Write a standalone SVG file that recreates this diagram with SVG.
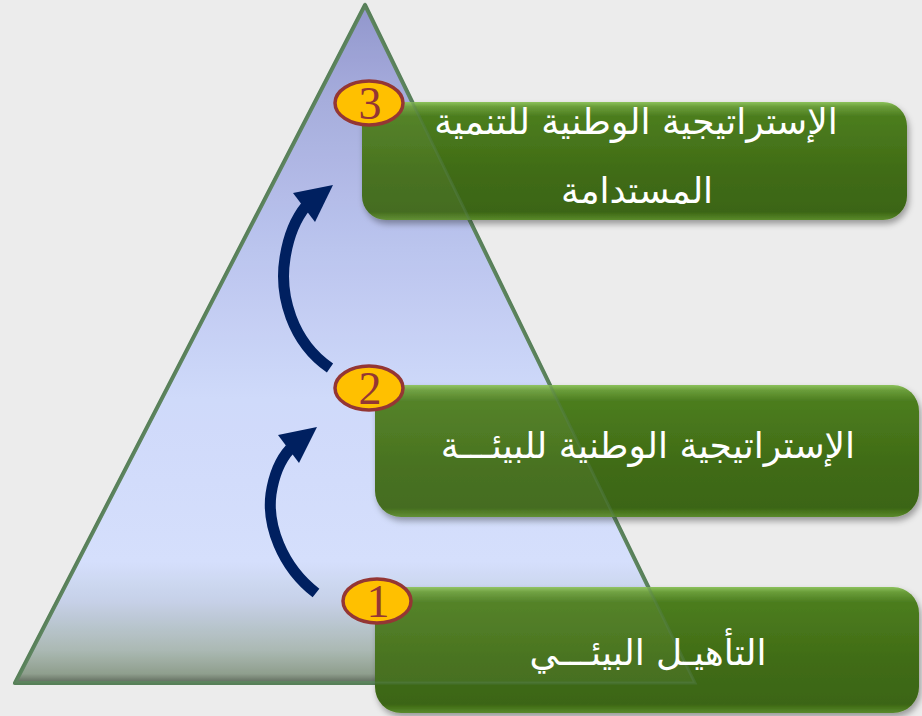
<svg xmlns="http://www.w3.org/2000/svg" width="922" height="716" viewBox="0 0 922 716">
<defs>
<linearGradient id="triFill" gradientUnits="userSpaceOnUse" x1="0" y1="5" x2="0" y2="684">
<stop offset="0" stop-color="#8c91ca"/>
<stop offset="0.14" stop-color="#a2a9db"/>
<stop offset="0.36" stop-color="#b8c2ee"/>
<stop offset="0.58" stop-color="#cdd8fa"/>
<stop offset="0.82" stop-color="#d3defc"/>
<stop offset="0.88" stop-color="#c3cee6"/>
<stop offset="0.95" stop-color="#a7b6b0"/>
<stop offset="0.985" stop-color="#8a9a88"/>
<stop offset="1" stop-color="#4f5a4c"/>
</linearGradient>
<linearGradient id="boxFill" x1="0" y1="0" x2="0" y2="1">
<stop offset="0" stop-color="#8cc25c"/>
<stop offset="0.04" stop-color="#6a9d3a"/>
<stop offset="0.12" stop-color="#4c7d1f"/>
<stop offset="0.55" stop-color="#416d16"/>
<stop offset="0.93" stop-color="#3b6512"/>
<stop offset="1" stop-color="#5a8a2c"/>
</linearGradient>
<filter id="shadow" x="-5%" y="-10%" width="115%" height="130%">
<feDropShadow dx="2" dy="4" stdDeviation="3" flood-color="#000" flood-opacity="0.35"/>
</filter>
<style>
.box{fill:url(#boxFill);filter:url(#shadow)}
.label{font-family:"DejaVu Sans",sans-serif;font-size:36px;fill:#ffffff;text-anchor:middle}
.badge{fill:#ffc000;stroke:#943634;stroke-width:3.5}
.num{font-family:"Liberation Serif",serif;font-size:46px;fill:#943634;text-anchor:middle}
.shaft{fill:none;stroke:#002060;stroke-width:11}
.head{fill:#002060}
</style>
</defs>
<rect width="922" height="716" fill="#ececec"/>
<g id="pyramid">
<polygon points="365,5 15,683 695,683" fill="url(#triFill)" stroke="#58805a" stroke-width="4" stroke-linejoin="round"/>
</g>
<g id="node3">
<rect class="box" x="362" y="102" width="545" height="118" rx="24"/>
</g>
<g id="node2">
<rect class="box" x="375" y="385" width="544" height="132" rx="26"/>
</g>
<g id="node1">
<rect class="box" x="375" y="587" width="544" height="126" rx="26"/>
</g>
<g id="overlay">
<polygon points="365,5 15,683 695,683" fill="#ffffff" fill-opacity="0.05" stroke="#58805a" stroke-opacity="0.35" stroke-width="3"/>
</g>
<g id="labels">
<text class="label" x="636" y="134" direction="rtl">الإستراتيجية  الوطنية للتنمية</text>
<text class="label" x="637" y="203" direction="rtl">المستدامة</text>
<text class="label" x="648" y="458" direction="rtl">الإستراتيجية الوطنية للبيئـــة</text>
<text class="label" x="648" y="665" direction="rtl">التأهيـل البيئـــي</text>
</g>
<g id="connectors">
<path class="shaft" d="M330,368 C292,342 279,295 285,258 C289,232 297,217 306,206"/>
<polygon class="head" points="293,193 333,185 315,222"/>
<path class="shaft" d="M316,593 C281,566 267,524 271,494 C274,474 280,460 290,449"/>
<polygon class="head" points="278,435 317,427 299,463"/>
</g>
<g id="badge3">
<ellipse class="badge" cx="369" cy="103" rx="34" ry="22"/>
<text class="num" x="370" y="119">3</text>
</g>
<g id="badge2">
<ellipse class="badge" cx="369" cy="388" rx="34" ry="22"/>
<text class="num" x="370" y="404">2</text>
</g>
<g id="badge1">
<ellipse class="badge" cx="377" cy="601" rx="34" ry="22"/>
<text class="num" x="378" y="617">1</text>
</g>
</svg>
